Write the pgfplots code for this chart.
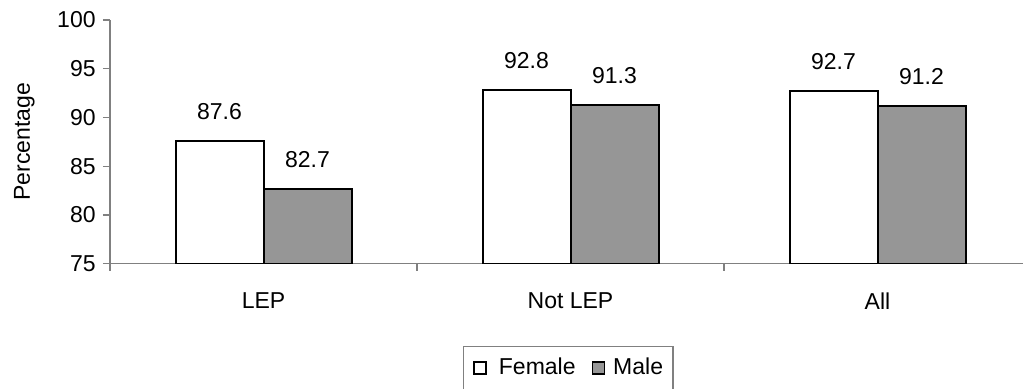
\documentclass[border=0pt]{standalone}
\usepackage{fontspec}
\setmainfont{Liberation Sans}
\usepackage{pgfplots}
\pgfplotsset{compat=1.18}

\definecolor{axisgray}{HTML}{808080}
\definecolor{malegray}{HTML}{969696}

\begin{document}
\begin{tikzpicture}
% fixed page frame; the legend box runs past its lower edge
\path[use as bounding box] (0pt,0pt) rectangle (511.5pt,-194.5pt);
\begin{axis}[
  at={(55pt,-131.85pt)}, anchor=south west,
  scale only axis,
  width=460.5pt, height=121.85pt,
  font=\fontsize{11.5}{13.8}\selectfont,
  /pgf/number format/assume math mode=true,
  ybar=0pt, bar width=44pt,
  xmin=-0.5, xmax=2.5,
  ymin=75, ymax=100,
  ytick={75,80,85,90,95,100},
  xtick={0,1,2},
  xticklabels={LEP,Not LEP,All},
  minor xtick={-0.5,0.5,1.5},
  major x tick style={draw=none},
  minor x tick style={draw=axisgray, line width=0.6pt},
  y tick style={draw=axisgray, line width=0.6pt},
  tick align=outside,
  major tick length=3.5pt, minor tick length=3.5pt,
  axis x line*=bottom, axis y line*=left,
  axis line style={draw=axisgray, line width=0.8pt, -},
  yticklabel style={anchor=east, inner sep=0pt, xshift=-3.5pt},
  xticklabel style={anchor=north, inner sep=0pt, yshift=-11pt},
  ylabel={Percentage},
  every axis y label/.style={at={(axis description cs:-0.093,0.5)}, rotate=90, anchor=center},
  nodes near coords,
  every node near coord/.append style={anchor=south, inner sep=0pt, yshift=10pt},
  legend columns=2,
  legend style={
    at={(axis description cs:0.4975,-0.3365)}, anchor=north,
    draw=axisgray, line width=0.6pt,
    inner xsep=5pt, inner ysep=6pt,
    /tikz/every even column/.append style={column sep=8pt},
    nodes={inner sep=0pt, anchor=west},
  },
  legend image code/.code={
    \draw[#1, line width=0.8pt] (0pt,-3pt) rectangle (6pt,3pt);
  },
  legend cell align=left,
]
\addplot[draw=black, line width=1pt, fill=white]
  coordinates {(0,87.6) (1,92.8) (2,92.7)};
\addplot[draw=black, line width=1pt, fill=malegray]
  coordinates {(0,82.7) (1,91.3) (2,91.2)};
\legend{\hspace{6pt}Female\rule[-6pt]{0pt}{6pt},\hspace{4pt}Male}
\end{axis}
\end{tikzpicture}
\end{document}
